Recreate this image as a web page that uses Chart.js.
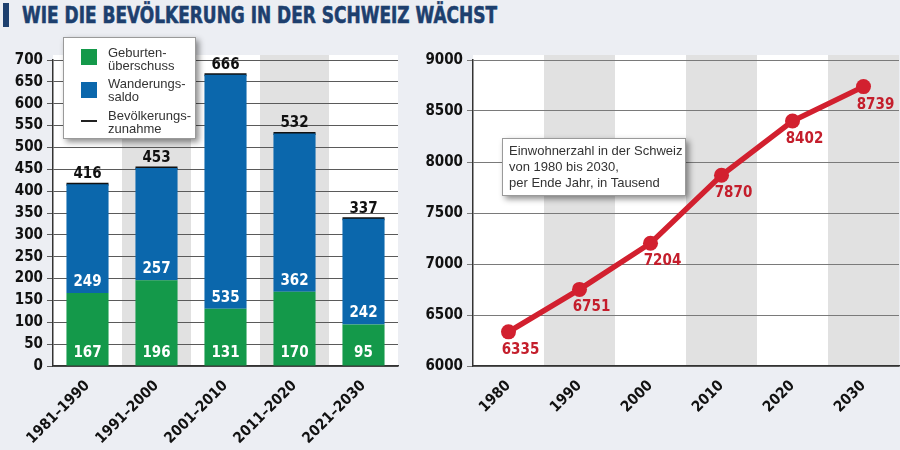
<!DOCTYPE html>
<html>
<head>
<meta charset="utf-8">
<script src="https://cdn.jsdelivr.net/npm/chart.js@4.4.1/dist/chart.umd.min.js"></script>
<style>
  body { margin: 0; width: 900px; height: 450px; overflow: hidden; position: relative; background: #eceef3; }
  .chartbox { position: absolute; top: 0; }
  #titlebar { position: absolute; left: 3px; top: 3px; width: 6px; height: 24px; background: #1d3f6e; }
  #title { position: absolute; left: 22px; top: 2px; font: bold 23px "Liberation Sans Narrow", "DejaVu Sans Condensed", sans-serif; color: #1d3f6e; white-space: nowrap; transform-origin: 0 0; -webkit-text-stroke: 0.6px #1d3f6e; }
  .box { position: absolute; background: #fff; border: 1px solid #9a9a9a; box-shadow: 3px 3px 6px rgba(0,0,0,0.45); font: 13px "Liberation Sans", Arial, sans-serif; color: #333; }
  .legitem { position: absolute; left: 44px; line-height: 12.5px; }
  .sw { position: absolute; left: 17px; width: 16px; height: 16px; }
</style>
</head>
<body>
<div id="titlebar"></div>
<div id="title">WIE DIE BEVÖLKERUNG IN DER SCHWEIZ WÄCHST</div>

<div class="chartbox" style="left:0"><canvas id="left" width="420" height="450"></canvas></div>
<div class="chartbox" style="left:420px"><canvas id="right" width="480" height="450"></canvas></div>

<div class="box" id="legend" style="left:63px; top:37px; width:131px; height:100px;">
  <div class="sw" id="swGreen" style="top:11px"></div>
  <div class="legitem" style="top:9px">Geburten-<br>überschuss</div>
  <div class="sw" id="swBlue" style="top:44px"></div>
  <div class="legitem" style="top:40px">Wanderungs-<br>saldo</div>
  <div class="sw" style="top:82px; height:2px; background:#222"></div>
  <div class="legitem" style="top:72px">Bevölkerungs-<br>zunahme</div>
</div>

<div class="box" style="left:502px; top:138px; width:182px; height:56px;">
  <div style="position:absolute; left:6px; top:4px; line-height:16px;">Einwohnerzahl in der Schweiz<br>von 1980 bis 2030,<br>per Ende Jahr, in Tausend</div>
</div>

<script>
// Bevölkerungswachstum pro Jahrzehnt (in Tausend)
const periods = ['1981–1990', '1991–2000', '2001–2010', '2011–2020', '2021–2030'];
const geburten = [167, 196, 131, 170, 95];
const wanderung = [249, 257, 535, 362, 242];
const zunahme = [416, 453, 666, 532, 337];

// Einwohnerzahl per Ende Jahr (in Tausend)
const years = ['1980', '1990', '2000', '2010', '2020', '2030'];
const einwohner = [6335, 6751, 7204, 7870, 8402, 8739];

const GREEN = '#14994a';
const BLUE = '#0b67ac';
const RED = '#d2202f';
const NARROW = '"Liberation Sans Narrow", "DejaVu Sans Condensed", sans-serif';

document.getElementById('swGreen').style.background = GREEN;
document.getElementById('swBlue').style.background = BLUE;

// fit title width
const t = document.getElementById('title');
t.style.transform = 'scaleX(' + (475 / t.offsetWidth) + ')';

// alternating column bands behind the plot
const bandPlugin = {
  id: 'bands',
  beforeDraw(chart) {
    const { ctx, chartArea: a, scales: { x } } = chart;
    const n = chart.data.labels.length;
    const w = (a.right - a.left) / n;
    ctx.save();
    for (let i = 0; i < n; i++) {
      ctx.fillStyle = i % 2 ? '#e1e1e1' : '#ffffff';
      const cx = x.getPixelForValue(i);
      ctx.fillRect(cx - w / 2, a.top - 5, w, a.bottom - a.top + 5);
    }
    ctx.restore();
  }
};

const barLabels = {
  id: 'barLabels',
  afterDatasetsDraw(chart) {
    const ctx = chart.ctx;
    const g = chart.getDatasetMeta(0).data;
    const tot = chart.getDatasetMeta(2).data;
    ctx.save();
    ctx.textAlign = 'center';
    ctx.textBaseline = 'middle';
    ctx.font = 'bold 15px ' + NARROW;
    g.forEach((el, i) => {
      ctx.fillStyle = '#fff';
      ctx.fillText(geburten[i], el.x, el.base - 12);
      ctx.fillText(wanderung[i], el.x, el.y - 11);
      ctx.fillStyle = '#111';
      ctx.fillText(zunahme[i], tot[i].x, tot[i].y - 10);
    });
    ctx.restore();
  }
};

const pointLabels = {
  id: 'pointLabels',
  afterDatasetsDraw(chart) {
    const ctx = chart.ctx;
    ctx.save();
    ctx.textAlign = 'center';
    ctx.textBaseline = 'middle';
    ctx.font = 'bold 15px ' + NARROW;
    ctx.fillStyle = '#c41e2c';
    chart.getDatasetMeta(0).data.forEach((el, i) => {
      ctx.fillText(einwohner[i], el.x + 12, el.y + 18);
    });
    ctx.restore();
  }
};

const tickFont = { family: NARROW, size: 15, weight: 'bold' };
const plain = v => String(v);
const fixX = s => { s.height = 84; s.paddingLeft = 0; s.paddingRight = 0; };

new Chart(document.getElementById('left'), {
  type: 'bar',
  data: {
    labels: periods,
    datasets: [
      { label: 'Geburtenüberschuss', data: geburten, backgroundColor: GREEN, stack: 'a' },
      { label: 'Wanderungssaldo', data: wanderung, backgroundColor: BLUE, stack: 'a' },
      {
        type: 'line', label: 'Bevölkerungszunahme', data: zunahme, stack: 'total',
        showLine: false, pointStyle: 'line', pointRadius: 21, pointHoverRadius: 21,
        borderColor: '#111', pointBorderWidth: 3, borderWidth: 3
      }
    ]
  },
  options: {
    responsive: false,
    animation: false,
    layout: { autoPadding: false, padding: { top: 60, right: 22, left: 0, bottom: 0 } },
    datasets: { bar: { categoryPercentage: 1, barPercentage: 0.61 } },
    plugins: { legend: { display: false }, tooltip: { enabled: false } },
    scales: {
      x: {
        stacked: true,
        grid: { display: false },
        border: { color: '#333', width: 1.5 },
        ticks: { color: '#111', font: tickFont, maxRotation: 45, minRotation: 45, autoSkip: false, padding: 3 },
        afterFit: fixX
      },
      y: {
        stacked: true,
        min: 0, max: 700,
        grid: { color: '#5a5a5a', lineWidth: 1, tickLength: 6 },
        border: { color: '#333', width: 1.5 },
        ticks: { stepSize: 50, autoSkip: false, color: '#111', font: tickFont, padding: 4, callback: plain },
        afterFit(s) { s.width = 53; }
      }
    }
  },
  plugins: [bandPlugin, barLabels]
});

new Chart(document.getElementById('right'), {
  type: 'line',
  data: {
    labels: years,
    datasets: [{
      label: 'Einwohner', data: einwohner,
      borderColor: RED, backgroundColor: RED, borderWidth: 5.5,
      pointRadius: 7.5, pointHoverRadius: 7.5, pointBackgroundColor: RED, pointBorderWidth: 0
    }]
  },
  options: {
    responsive: false,
    animation: false,
    layout: { autoPadding: false, padding: { top: 60, right: 1, left: 0, bottom: 0 } },
    plugins: { legend: { display: false }, tooltip: { enabled: false } },
    scales: {
      x: {
        offset: true,
        grid: { display: false },
        border: { color: '#333', width: 1.5 },
        ticks: { color: '#111', font: tickFont, maxRotation: 45, minRotation: 45, autoSkip: false, padding: 3 },
        afterFit: fixX
      },
      y: {
        min: 6000, max: 9000,
        grid: { color: '#7a7a7a', lineWidth: 1, tickLength: 6 },
        border: { color: '#333', width: 1.5 },
        ticks: { stepSize: 500, autoSkip: false, color: '#111', font: tickFont, padding: 4, callback: plain },
        afterFit(s) { s.width = 53; }
      }
    }
  },
  plugins: [bandPlugin, pointLabels]
});
</script>
</body>
</html>
